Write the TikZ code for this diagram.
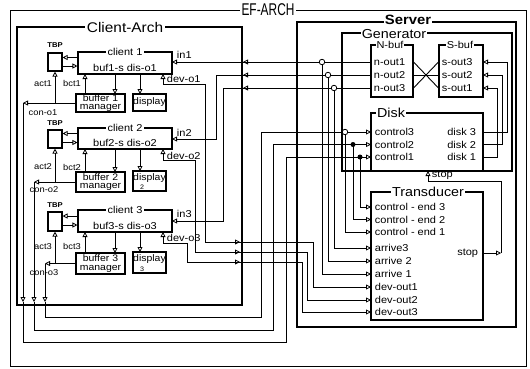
\documentclass[tikz,border=0pt]{standalone}
\usepackage{fontspec}
\setmainfont{Liberation Sans}[FakeStretch=1.1]
\newfontfamily\archfont{Liberation Sans}[FakeStretch=0.7]
\usetikzlibrary{arrows.meta}

\tikzset{every picture/.style={line width=0.9pt}}
\tikzset{
  box/.style={draw, line width=1.1pt, inner sep=0pt},
  framebox/.style={draw, line width=1.4pt, inner sep=0pt},
  ttl/.style={fill=white, inner sep=1.5pt, font=\fontsize{13}{13}\selectfont},
  lbl/.style={inner sep=0.5pt, font=\fontsize{10}{10}\selectfont},
  sml/.style={inner sep=0.5pt, font=\fontsize{8.5}{8.5}\selectfont},
  arr/.style={-{Triangle[open,length=5pt,width=5pt,line width=0.8pt]}},
  arrb/.style={{Triangle[open,length=5pt,width=5pt,line width=0.8pt]}-{Triangle[open,length=5pt,width=5pt,line width=0.8pt]}},
  jdot/.style={circle, draw, fill=white, line width=0.8pt, inner sep=0pt, minimum size=5.5pt},
  fdot/.style={circle, fill=black, inner sep=0pt, minimum size=5pt},
}

\begin{document}
\begin{tikzpicture}[x=1pt,y=1pt,yscale=-1,xscale=1]
    \useasboundingbox (0,0) rectangle (530,368);

    % Outer frame
    \draw[line width=0.8pt] (10,10) rectangle (526,366);
    \node[ttl, font=\archfont\fontsize{17}{17}\selectfont] (efarch) at (268,10) {EF-ARCH};

    %Client-Arch frame
    \node[framebox, minimum width=225, minimum height=278] (carch) at (129.5,166) {};
    \node[ttl, font=\fontsize{14}{14}\selectfont] (carcht) at (125,27) {Client-Arch};

    %Server frame
    \node[framebox, minimum width=219, minimum height=305] (server) at (406.5,174.5) {};
    \node[ttl, inner sep=1pt, font=\bfseries\fontsize{13.5}{13.5}\selectfont] (servert) at (408,20) {Server};
    \node[box, minimum width=170, minimum height=138] (gen) at (427,102) {};
    \node[ttl, inner sep=1pt] (gent) at (394,34) {Generator};

    % Client boxes
    \node[box, minimum width=94, minimum height=22] (client1) at (125,63) {};
    \node[box, minimum width=94, minimum height=21] (client2) at (125,138.5) {};
    \node[box, minimum width=94, minimum height=22] (client3) at (125,221) {};
    \node[lbl, fill=white, inner sep=1.5pt] (client1t) at (125,52) {client 1};
    \node[lbl, fill=white, inner sep=1.5pt] (client2t) at (125,128) {client 2};
    \node[lbl, fill=white, inner sep=1.5pt] (client3t) at (125,210) {client 3};
    \node[lbl] (client1s) at (125,67.5) {buf1-s dis-o1};
    \node[lbl] (client2s) at (125,142.5) {buf2-s dis-o2};
    \node[lbl] (client3s) at (125,225.5) {buf3-s dis-o3};

    % TBP boxes
    \node[box, minimum width=14, minimum height=18] (tbp1) at (55,62) {};
    \node[box, minimum width=14, minimum height=18] (tbp2) at (55,139) {};
    \node[box, minimum width=14, minimum height=19] (tbp3) at (55,221.5) {};
    \node[sml, font=\bfseries\fontsize{7}{7}\selectfont] (tbp1t) at (55,45) {TBP};
    \node[sml, font=\bfseries\fontsize{7}{7}\selectfont] (tbp2t) at (55,123) {TBP};
    \node[sml, font=\bfseries\fontsize{7}{7}\selectfont] (tbp3t) at (55,205) {TBP};

    % Buffer managers and displays
    \node[box, minimum width=49, minimum height=18, align=center, font=\fontsize{9.5}{8.5}\selectfont] (bm1) at (100.5,103) {buffer 1\\manager};
    \node[box, minimum width=49, minimum height=20, align=center, font=\fontsize{9.5}{8.5}\selectfont] (bm2) at (100.5,182) {buffer 2\\manager};
    \node[box, minimum width=49, minimum height=21, align=center, font=\fontsize{9.5}{8.5}\selectfont] (bm3) at (100.5,263.5) {buffer 3\\manager};
    \node[box, minimum width=33, minimum height=17, font=\fontsize{9.5}{9.5}\selectfont] (disp1) at (149.5,102.5) {display};
    \node[box, minimum width=33, minimum height=20, font=\fontsize{9.5}{9.5}\selectfont] (disp2) at (149.5,181) {};
    \node[box, minimum width=33, minimum height=21, font=\fontsize{9.5}{9.5}\selectfont] (disp3) at (149.5,262.5) {};
    \node[inner sep=0pt, font=\fontsize{9.5}{9.5}\selectfont] (disp2t) at (149.5,178.5) {display};
    \node[inner sep=0pt, font=\fontsize{9.5}{9.5}\selectfont] (disp3t) at (149.5,259.5) {display};
    \node[inner sep=0pt, font=\fontsize{6.5}{6.5}\selectfont] (disp2n) at (142,187.5) {2};
    \node[inner sep=0pt, font=\fontsize{6.5}{6.5}\selectfont] (disp3n) at (142,269) {3};

    % Generator contents
    \node[box, minimum width=42, minimum height=52] (nbuf) at (392,71) {};
    \node[lbl, fill=white, inner sep=1pt] (nbuft) at (390,45) {N-buf};
    \node[box, minimum width=44, minimum height=52] (sbuf) at (461,71) {};
    \node[lbl, fill=white, inner sep=1pt] (sbuft) at (460,45) {S-buf};
    \node[box, minimum width=112, minimum height=58] (disk) at (427,142) {};
    \node[ttl] (diskt) at (391,113) {Disk};
    \node[box, minimum width=112, minimum height=128] (trans) at (427,256) {};
    \node[ttl] (transt) at (428,192) {Transducer};

    % Ports
    \coordinate (in1) at (172,62);
    \coordinate (in2) at (172,139);
    \coordinate (in3) at (172,221);
    \coordinate (no1) at (371,62);
    \coordinate (no2) at (371,75);
    \coordinate (no3) at (371,88);
    \coordinate (so3) at (483,62);
    \coordinate (so2) at (483,75);
    \coordinate (so1) at (483,88);
    \coordinate (ct3) at (371,132);
    \coordinate (ct2) at (371,144.5);
    \coordinate (ct1) at (371,157);
    \coordinate (dk3) at (483,132);
    \coordinate (dk2) at (483,144.5);
    \coordinate (dk1) at (483,157);
    \coordinate (ce3) at (371,207);
    \coordinate (ce2) at (371,219.5);
    \coordinate (ce1) at (371,232);
    \coordinate (ar3) at (371,248);
    \coordinate (ar2) at (371,261);
    \coordinate (ar1) at (371,274);
    \coordinate (do1) at (371,287);
    \coordinate (do2) at (371,300);
    \coordinate (do3) at (371,312);
    \coordinate (sp) at (483,253);
    \coordinate (dstop) at (428,171);
    \coordinate (co1) at (23,103);
    \coordinate (co2) at (34,182);
    \coordinate (co3) at (45,263.5);
    \coordinate (dv1) at (163,74);
    \coordinate (dv2) at (163,149);
    \coordinate (dv3) at (163,232);
    \coordinate (j1) at (322,62);
    \coordinate (j2) at (328,75);
    \coordinate (j3) at (334,88);
    \coordinate (k3) at (345,132);
    \coordinate (k2) at (353,144.5);
    \coordinate (k1) at (360,157);

    %Straight Lines client 1
    \draw[arr] (client1.west |- 0,57.5) -- (tbp1.east |- 0,57.5);
    \draw[arr] (tbp1.east |- 0,66) -- (client1.west |- 0,66);
    \draw[arr] (tbp1.south |- co1) -- (tbp1.south);
    \draw[arr] (85,94) -- (85,74);
    \draw[arr] (115,74) -- (115,94);
    \draw[arr] (140,74) -- (140,94);
    \draw[arr] (bm1.west) -- (co1);
    %Straight Lines client 2
    \draw[arr] (client2.west |- 0,133.5) -- (tbp2.east |- 0,133.5);
    \draw[arr] (tbp2.east |- 0,142.5) -- (client2.west |- 0,142.5);
    \draw[arr] (tbp2.south |- co2) -- (tbp2.south);
    \draw[arr] (85,172) -- (85,149);
    \draw[arr] (115,149) -- (115,172);
    \draw[arr] (140,149) -- (140,171);
    \draw[arr] (bm2.west) -- (co2);
    %Straight Lines client 3
    \draw[arr] (client3.west |- 0,216) -- (tbp3.east |- 0,216);
    \draw[arr] (tbp3.east |- 0,225) -- (client3.west |- 0,225);
    \draw[arr] (tbp3.south |- co3) -- (tbp3.south);
    \draw[arr] (85,253) -- (85,232);
    \draw[arr] (115,232) -- (115,253);
    \draw[arr] (140,232) -- (140,252);
    \draw[arr] (bm3.west) -- (co3);

    % con lines to the disk
    \draw[arr] (co1) -- (23,302);
    \draw[arr] (23,302) |- (286,342) |- (ct1);
    \draw[arr] (co2) -- (34,302);
    \draw[arr] (34,302) |- (273,330) |- (ct2);
    \draw[arr] (co3) -- (45,302);
    \draw[arr] (45,302) |- (261,317) |- (ct3);

    % generator outputs to the clients
    \draw[arr] (no1) -- (in1);
    \draw[arr] (no2) -- (216,75) |- (in2);
    \draw[arr] (no3) -- (223,88) |- (in3);
    \draw[arr] (249,62) -- (243,62);
    \draw[arr] (249,75) -- (243,75);
    \draw[arr] (249,88) -- (243,88);
    \draw[arr] (j1) |- (ar1);
    \draw[arr] (j2) |- (ar2);
    \draw[arr] (j3) |- (ar3);

    % dev lines
    \draw[arrb] (dv1) -- (163,84) -| (205,242) -| (313,287) -- (do1);
    \draw[arrb] (dv2) -- (163,160) -| (195,252) -| (307,300) -- (do2);
    \draw[arrb] (dv3) -- (163,243) -| (187,262) -| (302,312) -- (do3);
    \draw[arr] (234,242) -- (240,242);
    \draw[arr] (234,252) -- (240,252);
    \draw[arr] (234,262) -- (240,262);

    % control ends
    \draw[arr] (k3) |- (ce1);
    \draw[arr] (k2) |- (ce2);
    \draw[arr] (k1) |- (ce3);

    % N-buf to S-buf
    \draw (nbuf.east |- no1) -- (sbuf.west |- so1);
    \draw (nbuf.east |- no2) -- (sbuf.west |- so2);
    \draw (nbuf.east |- no3) -- (sbuf.west |- so3);
    \draw[arr] (dk3) -- (507,132) |- (so3);
    \draw[arr] (dk2) -- (502,144.5) |- (so2);
    \draw[arr] (dk1) -- (497,157) |- (so1);

    % stop
    \draw[arr] (sp) -- (501,253);
    \draw[arr] (501,253) |- (428,181) -- (dstop);

    % junctions
    \node[jdot] (j1c) at (j1) {};
    \node[jdot] (j2c) at (j2) {};
    \node[jdot] (j3c) at (j3) {};
    \node[jdot] (k3c) at (k3) {};
    \node[fdot] (k2c) at (k2) {};
    \node[fdot] (k1c) at (k1) {};

    % Text Node
    \node[lbl, anchor=south west] (lin1) at (176,59) {in1};
    \node[lbl, anchor=south west] (lin2) at (176,137) {in2};
    \node[lbl, anchor=south west] (lin3) at (176,219) {in3};
    \node[lbl, anchor=west] (ldev1) at (166,79) {dev-o1};
    \node[lbl, anchor=west] (ldev2) at (166,156) {dev-o2};
    \node[lbl, anchor=west] (ldev3) at (166,238) {dev-o3};
    \node[sml] (lact1) at (43,84) {act1};
    \node[sml] (lact2) at (43,167) {act2};
    \node[sml] (lact3) at (43,247) {act3};
    \node[sml] (lbct1) at (72,83) {bct1};
    \node[sml] (lbct2) at (72,167) {bct2};
    \node[sml] (lbct3) at (72,246) {bct3};
    \node[sml] (lcon1) at (43,113) {con-o1};
    \node[sml] (lcon2) at (44,190) {con-o2};
    \node[sml] (lcon3) at (44,273) {con-o3};
    % Text Node
    \node[lbl, anchor=west] (lno1) at (373,62) {n-out1};
    \node[lbl, anchor=west] (lno2) at (373,75) {n-out2};
    \node[lbl, anchor=west] (lno3) at (373,88) {n-out3};
    \node[lbl, anchor=west] (lso3) at (441,62) {s-out3};
    \node[lbl, anchor=west] (lso2) at (441,75) {s-out2};
    \node[lbl, anchor=west] (lso1) at (441,88) {s-out1};
    \node[lbl, anchor=west] (lct3) at (374,132) {control3};
    \node[lbl, anchor=west] (lct2) at (374,144.5) {control2};
    \node[lbl, anchor=west] (lct1) at (374,157) {control1};
    \node[lbl, anchor=east] (ldk3) at (477,132) {disk 3};
    \node[lbl, anchor=east] (ldk2) at (477,144.5) {disk 2};
    \node[lbl, anchor=east] (ldk1) at (477,157) {disk 1};
    \node[lbl, anchor=west] (lstop) at (431,175.5) {stop};
    % Text Node
    \node[lbl, anchor=west] (lce3) at (374,207) {control - end 3};
    \node[lbl, anchor=west] (lce2) at (374,219.5) {control - end 2};
    \node[lbl, anchor=west] (lce1) at (374,232) {control - end 1};
    \node[lbl, anchor=west] (lar3) at (374,248) {arrive3};
    \node[lbl, anchor=west] (lar2) at (374,261) {arrive 2};
    \node[lbl, anchor=west] (lar1) at (374,274) {arrive 1};
    \node[lbl, anchor=west] (ldo1) at (374,287) {dev-out1};
    \node[lbl, anchor=west] (ldo2) at (374,300) {dev-out2};
    \node[lbl, anchor=west] (ldo3) at (374,312) {dev-out3};
    \node[lbl, anchor=east] (lsp) at (479,253) {stop};

\end{tikzpicture}
\end{document}
